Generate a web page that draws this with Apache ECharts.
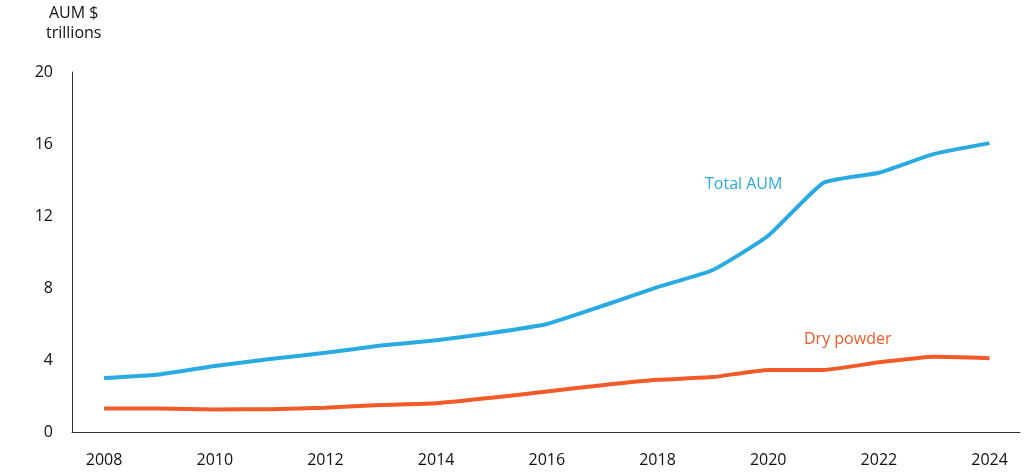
<!DOCTYPE html>
<html>
<head>
<meta charset="utf-8">
<script src="https://cdn.jsdelivr.net/npm/echarts@6/dist/echarts.min.js"></script>
<style>
  html, body { margin: 0; padding: 0; background: #fff; }
  #chart { width: 1024px; height: 473px; }
</style>
</head>
<body>
<div id="chart"></div>
<script>
// years and values (AUM $ trillions)
const years = [2008, 2009, 2010, 2011, 2012, 2013, 2014, 2015, 2016, 2017, 2018, 2019, 2020, 2021, 2022, 2023, 2024];
const totalAum = [3.0, 3.2, 3.67, 4.05, 4.4, 4.8, 5.1, 5.5, 6.0, 7.0, 8.05, 9.0, 10.9, 13.85, 14.4, 15.45, 16.05];
const dryPowder = [1.3, 1.3, 1.25, 1.27, 1.35, 1.5, 1.6, 1.9, 2.25, 2.6, 2.9, 3.05, 3.45, 3.45, 3.87, 4.18, 4.1];
const xTicks = [2008, 2010, 2012, 2014, 2016, 2018, 2020, 2022, 2024];

const font = "'Open Sans', 'Noto Sans', sans-serif";
const blue = "#29abe2";
const orange = "#f15a29";

const chart = echarts.init(document.getElementById("chart"));

const option = {
  animation: false,
  textStyle: { fontFamily: font },
  grid: { left: 72, right: 4, top: 72, bottom: 41 },
  xAxis: {
    type: "value",
    min: 2007.42,
    max: 2024.55,
    splitLine: { show: false },
    axisLine: { show: true, lineStyle: { color: "#333", width: 1 } },
    axisTick: { show: false },
    axisLabel: {
      customValues: xTicks,
      formatter: (v) => String(v),
      color: "#111",
      fontSize: 16,
      margin: 20,
      fontFamily: font
    }
  },
  yAxis: {
    type: "value",
    min: 0,
    max: 20,
    interval: 4,
    splitLine: { show: false },
    axisLine: { show: true, lineStyle: { color: "#333", width: 1 } },
    axisTick: { show: false },
    axisLabel: { color: "#111", fontSize: 16, margin: 19, fontFamily: font }
  },
  graphic: [
    {
      type: "text",
      left: 46,
      top: 3,
      style: {
        text: "AUM $\ntrillions",
        font: "16px " + font,
        fill: "#111",
        textAlign: "center",
        lineHeight: 20
      }
    },
    {
      type: "text",
      left: 705,
      top: 176,
      style: { text: "Total AUM", font: "16px " + font, fill: blue }
    },
    {
      type: "text",
      left: 804,
      top: 331,
      style: { text: "Dry powder", font: "16px " + font, fill: orange }
    }
  ],
  series: [
    {
      name: "Total AUM",
      type: "line",
      data: years.map((y, i) => [y, totalAum[i]]),
      showSymbol: false,
      smooth: 0.15,
      lineStyle: { color: blue, width: 4 }
    },
    {
      name: "Dry powder",
      type: "line",
      data: years.map((y, i) => [y, dryPowder[i]]),
      showSymbol: false,
      smooth: 0.15,
      lineStyle: { color: orange, width: 4 }
    }
  ]
};

chart.setOption(option);
</script>
</body>
</html>
